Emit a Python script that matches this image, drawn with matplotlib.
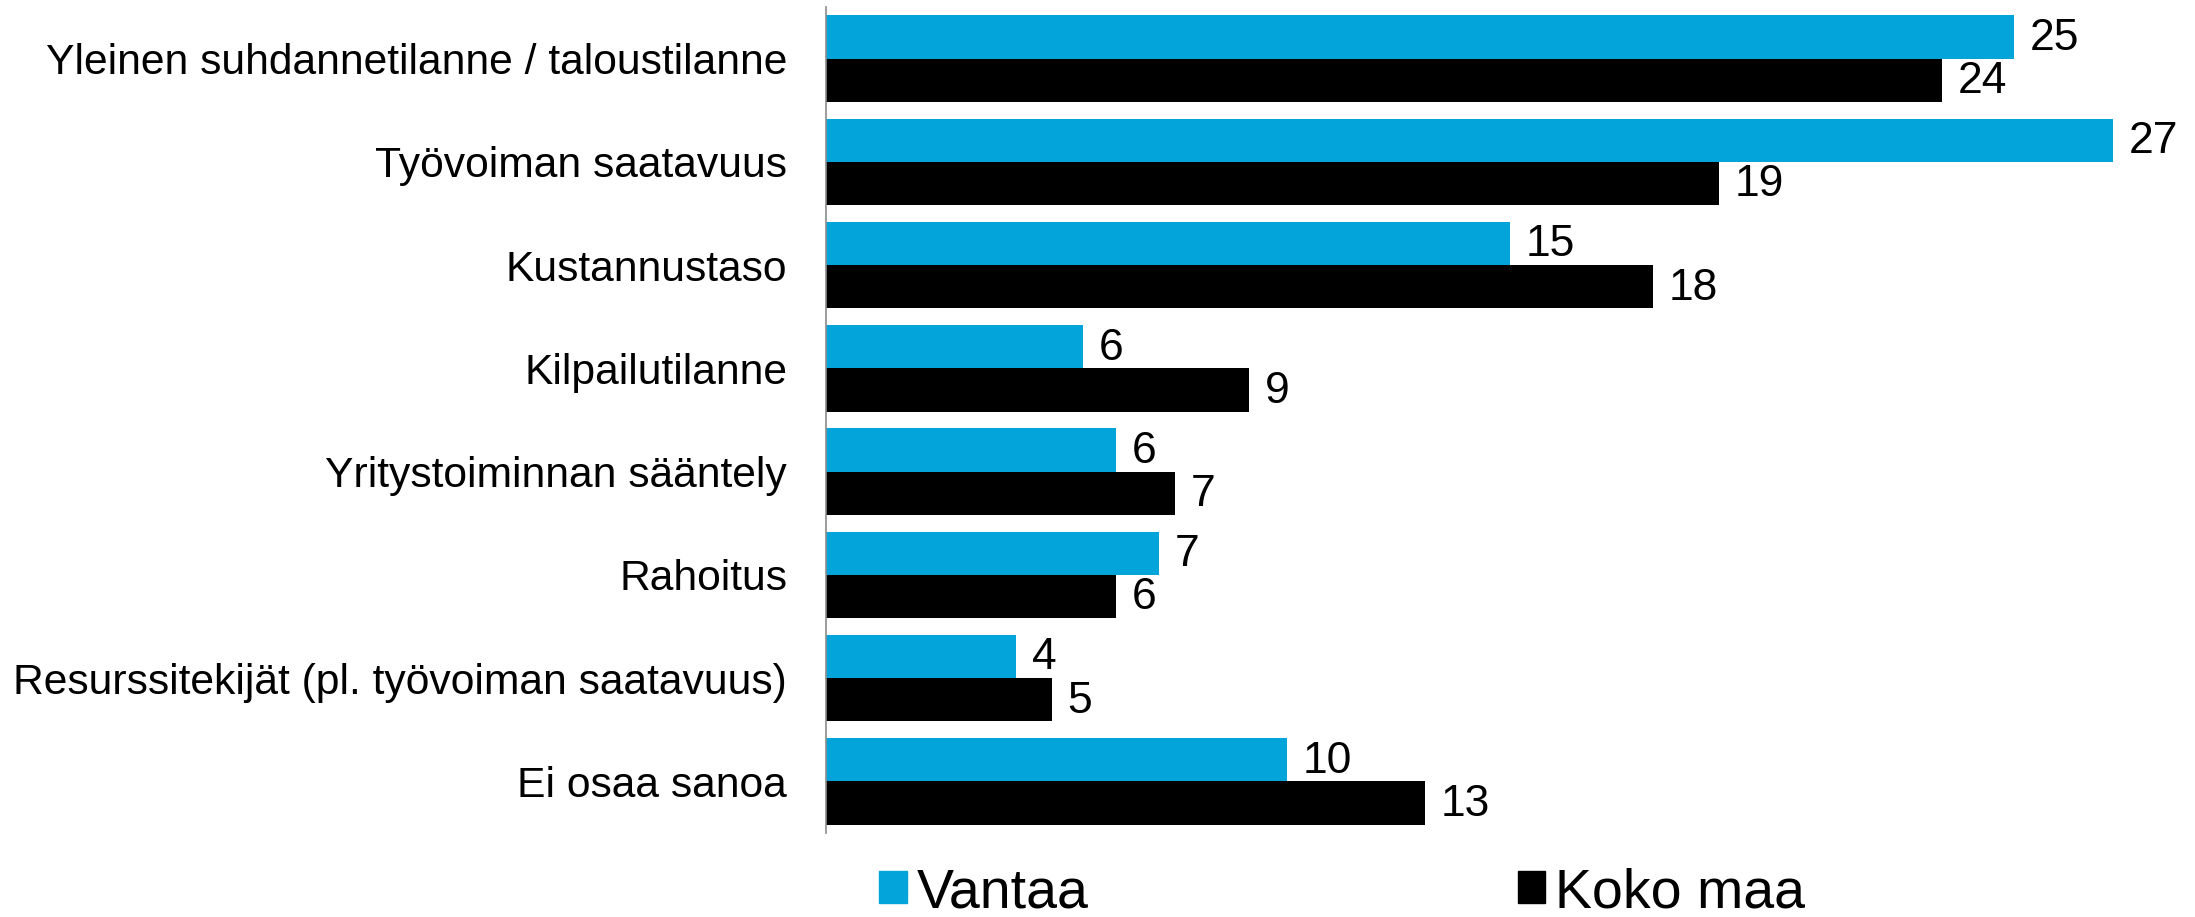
import numpy as np
import matplotlib
matplotlib.use("Agg")
import matplotlib.pyplot as plt
from matplotlib.patches import Patch

plt.rcParams['font.family'] = ['Liberation Sans', 'DejaVu Sans']

categories = [
    "Yleinen suhdannetilanne / taloustilanne",
    "Työvoiman saatavuus",
    "Kustannustaso",
    "Kilpailutilanne",
    "Yritystoiminnan sääntely",
    "Rahoitus",
    "Resurssitekijät (pl. työvoiman saatavuus)",
    "Ei osaa sanoa",
]
series_names = ["Vantaa", "Koko maa"]

# bar lengths
vantaa = [25.0, 27.1, 14.4, 5.4, 6.1, 7.0, 4.0, 9.7]
koko_maa = [23.5, 18.8, 17.4, 8.9, 7.35, 6.1, 4.75, 12.6]
# value labels printed next to the bars
vantaa_labels = ["25", "27", "15", "6", "6", "7", "4", "10"]
koko_maa_labels = ["24", "19", "18", "9", "7", "6", "5", "13"]

BLUE = "#02A4D9"
BLACK = "#000000"

W, H = 2195, 917
fig = plt.figure(figsize=(W / 100, H / 100), dpi=100)
ax = fig.add_axes([826 / W, (H - 833) / H, 1 - 826 / W, (833 - 7) / H])

y = np.arange(len(categories))
bh = 0.42
b1 = ax.barh(y - bh / 2, vantaa, height=bh, color=BLUE, label=series_names[0])
b2 = ax.barh(y + bh / 2, koko_maa, height=bh, color=BLACK, label=series_names[1])

for bars, labels in ((b1, vantaa_labels), (b2, koko_maa_labels)):
    for rect, txt in zip(bars, labels):
        ax.annotate(txt, (rect.get_width(), rect.get_y() + rect.get_height() / 2),
                    xytext=(11.5, -1), textcoords="offset points",
                    va="center", ha="left", fontsize=32, color="black")

ax.set_xlim(0, (W - 826) / 47.5)
ax.set_ylim(len(categories) - 0.5, -0.5)
ax.set_yticks(y)
ax.set_yticklabels(categories, fontsize=30.7)
ax.tick_params(axis="y", length=0, pad=28)
ax.set_xticks([])
for side in ("top", "right", "bottom"):
    ax.spines[side].set_visible(False)
ax.spines["left"].set_color("#8c8c8c")
ax.spines["left"].set_linewidth(1.2)

handles = [Patch(color=BLUE), Patch(color=BLACK)]
fig.legend(handles, series_names, loc="center left",
           bbox_to_anchor=(879 / W, (H - 893) / H), ncol=2, frameon=False,
           fontsize=40, handlelength=0.5, handleheight=0.5,
           handletextpad=0.18, columnspacing=7.72, borderaxespad=0,
           borderpad=0)

fig.savefig("out.png", dpi=100)
